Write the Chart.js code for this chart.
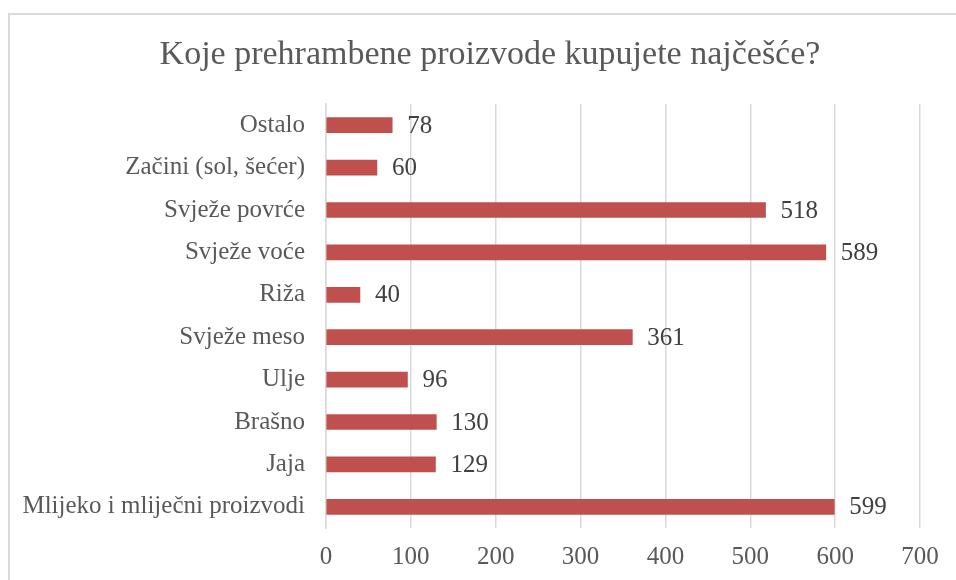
<!DOCTYPE html>
<html>
<head>
<meta charset="utf-8">
<script src="https://cdn.jsdelivr.net/npm/chart.js@4"></script>
<style>
  body { margin: 0; background: #fff; }
  #wrap { position: relative; width: 956px; height: 580px; overflow: hidden; }
  #frame { position: absolute; left: 8px; top: 13px; right: 0; bottom: -10px;
           border-left: 2px solid #d9d9d9; border-top: 2px solid #d9d9d9; }
  canvas { position: absolute; left: 0; top: 0; }
</style>
</head>
<body>
<div id="wrap">
  <div id="frame"></div>
  <canvas id="chart-food" width="956" height="580"></canvas>
</div>
<script>
var titleText = 'Koje prehrambene proizvode kupujete najčešće?';
var categories = ['Ostalo', 'Začini (sol, šećer)', 'Svježe povrće', 'Svježe voće', 'Riža',
                  'Svježe meso', 'Ulje', 'Brašno', 'Jaja', 'Mlijeko i mliječni proizvodi'];
var counts = [78, 60, 518, 589, 40, 361, 96, 130, 129, 599];
var xTicks = [0, 100, 200, 300, 400, 500, 600, 700];

var textGray = '#595959';
var fontFamily = '"Liberation Serif", "DejaVu Serif", serif';

// draws the number after the end of every bar
var valueLabels = {
  id: 'valueLabels',
  afterDatasetsDraw: function(chart) {
    var ctx = chart.ctx;
    var meta = chart.getDatasetMeta(0);
    ctx.save();
    ctx.fillStyle = '#404040';
    ctx.font = '25px ' + fontFamily;
    ctx.textAlign = 'left';
    ctx.textBaseline = 'middle';
    meta.data.forEach(function(bar, i) {
      ctx.fillText(String(counts[i]), bar.x + 15, bar.y + 1);
    });
    ctx.restore();
  }
};

// title sits a bit right of the canvas centre, like the original frame
var chartTitle = {
  id: 'chartTitle',
  afterDraw: function(chart) {
    var ctx = chart.ctx;
    ctx.save();
    ctx.fillStyle = textGray;
    ctx.font = '34px ' + fontFamily;
    ctx.textAlign = 'center';
    ctx.textBaseline = 'middle';
    ctx.fillText(titleText, 490, 55);
    ctx.restore();
  }
};

var chart;
function initChart() {
  var ctx = document.getElementById('chart-food').getContext('2d');
  chart = new Chart(ctx, {
    type: 'bar',
    data: {
      labels: categories,
      datasets: [{
        data: counts,
        backgroundColor: '#C0504D',
        borderWidth: 0,
        barThickness: 15
      }]
    },
    options: {
      indexAxis: 'y',
      responsive: false,
      animation: false,
      layout: { padding: { left: 0, right: 36, top: 104, bottom: 0 } },
      plugins: {
        legend: { display: false },
        tooltip: { enabled: false },
        title: { display: false }
      },
      scales: {
        x: {
          min: 0,
          max: 700,
          afterBuildTicks: function(scale) {
            scale.ticks = xTicks.map(function(v) { return { value: v }; });
          },
          afterFit: function(scale) { scale.height = 52; },
          grid: { color: '#d9d9d9', lineWidth: 1.5, drawTicks: false },
          border: { display: false },
          ticks: {
            color: textGray,
            padding: 14,
            maxRotation: 0,
            font: { family: fontFamily, size: 25 }
          }
        },
        y: {
          afterFit: function(scale) { scale.width = 326; },
          grid: { display: false, drawTicks: false },
          border: { display: true, color: '#d9d9d9', width: 1.5 },
          ticks: {
            color: textGray,
            padding: 21,
            autoSkip: false,
            font: { family: fontFamily, size: 25 }
          }
        }
      }
    },
    plugins: [valueLabels, chartTitle]
  });
}

window.addEventListener('load', initChart);
</script>
</body>
</html>
